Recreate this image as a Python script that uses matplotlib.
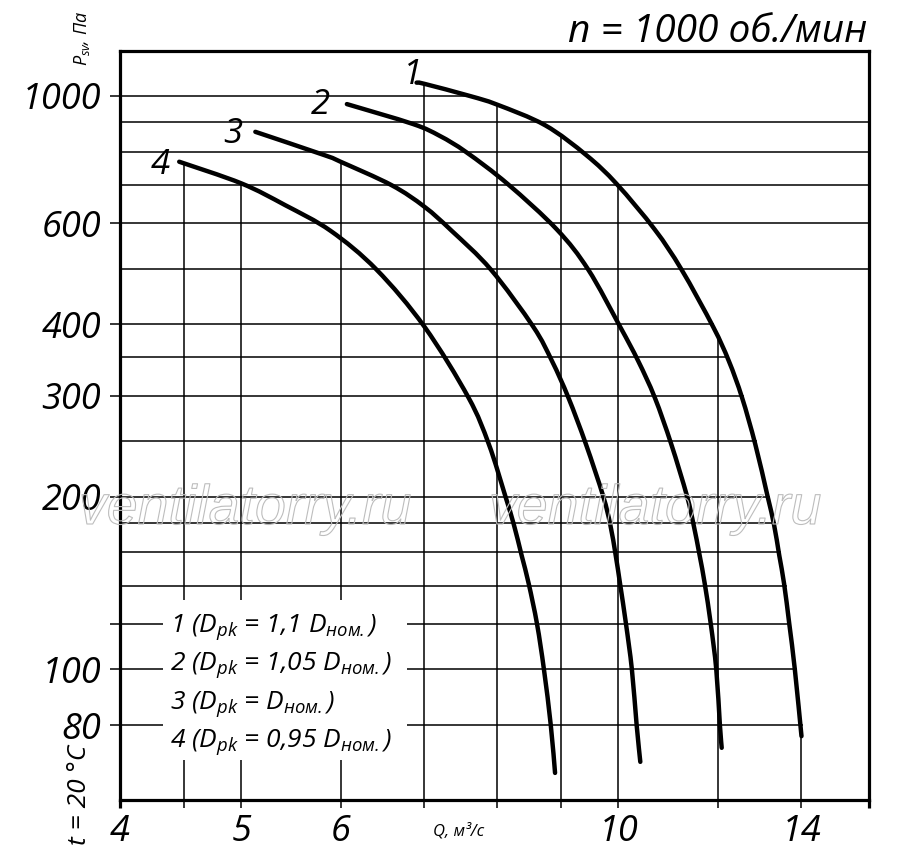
import numpy as np
import matplotlib
matplotlib.use("Agg")
import matplotlib.pyplot as plt
from matplotlib import ticker, patheffects
from matplotlib.patches import Rectangle, PathPatch
from matplotlib.path import Path

plt.rcParams['font.family'] = ['Open Sans', 'DejaVu Sans']
plt.rcParams['font.style'] = 'italic'
plt.rcParams['mathtext.fontset'] = 'custom'
plt.rcParams['mathtext.it'] = 'Open Sans:italic'
plt.rcParams['mathtext.rm'] = 'Open Sans:italic'

# fan curves, Q in m3/s, P in Pa
q1 = [6.90, 7.00, 7.61, 8.00, 8.74, 9.43, 9.97, 10.69, 11.23, 11.90, 12.25, 12.55, 12.86,
      13.15, 13.31, 13.44, 13.56, 13.69, 13.83, 14.00]
p1 = [1055, 1050, 1000, 966, 889, 788, 702, 585, 498, 396, 345, 298, 247,
      201, 179, 158, 141, 120, 100, 76.5]

q2 = [6.07, 6.85, 7.20, 7.56, 8.16, 8.93, 9.46, 10.03, 10.37, 10.69, 11.02, 11.34, 11.48,
      11.61, 11.72, 11.85, 11.97, 12.05, 12.09]
p2 = [968, 894, 852, 798, 702, 585, 498, 396, 345, 298, 247, 201, 179,
      158, 141, 120, 100, 80, 73]

q3 = [5.13, 5.83, 6.00, 6.59, 7.00, 7.36, 7.91, 8.55, 8.85, 9.12, 9.42, 9.72, 9.85,
      9.95, 10.03, 10.14, 10.25, 10.34, 10.41]
p3 = [866, 788, 768, 699, 641, 582, 498, 396, 345, 298, 247, 201, 179,
      158, 141, 120, 100, 80, 69]

q4 = [4.46, 5.00, 5.42, 5.89, 6.41, 7.00, 7.59, 7.88, 8.12, 8.25, 8.37, 8.48, 8.61,
      8.72, 8.83, 8.90]
p4 = [768, 704, 645, 582, 498, 396, 298, 247, 201, 179, 158, 141, 120,
      100, 80, 66]

curve_names = ['1', '2', '3', '4']
legend_lines = [
    r'1 ($D_{pk}$ = 1,1 $D_{ном.}$)',
    r'2 ($D_{pk}$ = 1,05 $D_{ном.}$)',
    r'3 ($D_{pk}$ = $D_{ном.}$)',
    r'4 ($D_{pk}$ = 0,95 $D_{ном.}$)',
]

grid_q = [4.5, 5, 6, 7, 8, 9, 10, 12, 14]
grid_p = [80, 100, 120, 140, 160, 180, 200, 250, 300, 350, 400, 500, 600, 700, 800, 900, 1000]
full_width_p = [500, 600, 700, 800, 900]
x_labels = [5, 6, 10, 14]
y_ticks = [80, 100, 120, 200, 300, 400, 600, 1000]
y_labels = ['80', '100', '', '200', '300', '400', '600', '1000']

curves = [(q1, p1), (q2, p2), (q3, p3), (q4, p4)]

xmin, xmax = 4, 15.85
ymin, ymax = 59.2, 1198

fig = plt.figure(figsize=(9, 8.56), dpi=100)
ax = fig.add_axes([120 / 900, 56 / 856, 749 / 900, 749 / 856])
ax.set_xscale('log')
ax.set_yscale('log')
ax.set_xlim(xmin, xmax)
ax.set_ylim(ymin, ymax)


def envelope_top(q):
    vals = []
    for qq, pp in curves:
        v = np.interp(np.log10(q), np.log10(qq), np.log10(pp), left=np.nan, right=np.nan)
        vals.append(v)
    return 10 ** np.nanmax(vals)


def outer_q(p):
    v = np.interp(np.log10(p), np.log10(p1[::-1]), np.log10(q1[::-1]))
    return 10 ** v * 1.004


def smooth_path(qq, pp):
    # Catmull-Rom through the read points, as cubic Bezier segments in log space
    pts = np.column_stack([np.log10(qq), np.log10(pp)])
    n = len(pts)
    verts = [pts[0]]
    codes = [Path.MOVETO]
    for i in range(n - 1):
        a = pts[max(i - 1, 0)]
        b = pts[i]
        c = pts[i + 1]
        d = pts[min(i + 2, n - 1)]
        verts += [b + (c - a) / 6, c - (d - b) / 6, c]
        codes += [Path.CURVE4] * 3
    return Path(10 ** np.array(verts), codes)


# grid lines stop at the outer curve
for q in grid_q:
    ax.vlines(q, ymin, envelope_top(q), color='black', lw=1.1, zorder=1)
for p in grid_p:
    right = xmax if p in full_width_p else outer_q(p)
    ax.hlines(p, xmin, right, color='black', lw=1.1, zorder=1)

# white field behind the legend text
ax.add_patch(Rectangle((0.0574, 0.0534), 0.3256, 0.2136, transform=ax.transAxes,
                       facecolor='white', edgecolor='none', zorder=2))

offsets = [(-4, 8), (-26, -1), (-23, -2), (-19, -3)]
for (qq, pp), name, off in zip(curves, curve_names, offsets):
    ax.add_patch(PathPatch(smooth_path(qq, pp), facecolor='none', edgecolor='black',
                           lw=3.2, capstyle='round', zorder=3))
    ax.annotate(name, (qq[0], pp[0]), xytext=off, textcoords='offset pixels',
                ha='center', va='center', fontsize=25, zorder=4)

# axes look
for s in ax.spines.values():
    s.set_linewidth(2.3)

ax.xaxis.set_major_locator(ticker.FixedLocator(grid_q))
ax.xaxis.set_major_formatter(ticker.FuncFormatter(
    lambda v, pos: f'{v:g}' if round(v, 3) in x_labels else ''))
ax.xaxis.set_minor_locator(ticker.FixedLocator([xmin, xmax]))
ax.xaxis.set_minor_formatter(ticker.FuncFormatter(
    lambda v, pos: f'{v:g}' if round(v, 3) == xmin else ''))
ax.yaxis.set_major_locator(ticker.FixedLocator(y_ticks))
ax.yaxis.set_major_formatter(ticker.FixedFormatter(y_labels))
ax.yaxis.set_minor_locator(ticker.NullLocator())

ax.tick_params(axis='x', which='major', direction='out', length=6, width=1.1, pad=4, labelsize=26)
ax.tick_params(axis='x', which='minor', direction='out', length=6, width=2.3, pad=4, labelsize=26)
ax.tick_params(axis='y', which='major', direction='out', length=7.5, width=1.1, pad=6, labelsize=26)

# legend text
for i, line in enumerate(legend_lines):
    fig.text(170 / 900, 1 - (632 + 38.3 * i) / 856, line, ha='left', va='baseline', fontsize=19)

fig.text(867 / 900, 1 - 42 / 856, 'n = 1000 об./мин', ha='right', va='baseline', fontsize=28)
fig.text(82 / 900, 1 - 38 / 856, r'$P_{sv}$, Па', rotation=90, ha='center', va='center', fontsize=13)
fig.text(80 / 900, 1 - 795 / 856, 't = 20 °C', rotation=90, ha='center', va='center', fontsize=19)
fig.text(459 / 900, 1 - 831 / 856, 'Q, м³/с', ha='center', va='center', fontsize=12)

# watermark
for cx in [245, 655]:
    fig.text(cx / 900, 1 - 510 / 856, 'ventilatorry.ru', ha='center', va='center',
             fontsize=40, family='Liberation Sans', color=(1, 1, 1, 0),
             path_effects=[patheffects.Stroke(linewidth=0.8, foreground='#bdbdbd')])

plt.savefig('out.png', dpi=100)
